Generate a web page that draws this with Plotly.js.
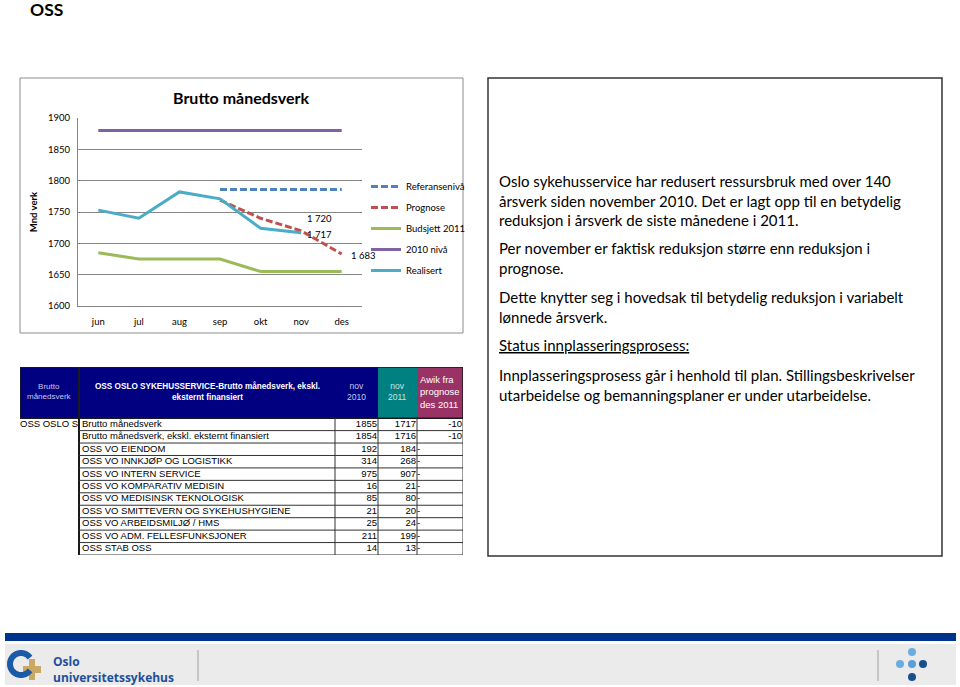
<!DOCTYPE html>
<html><head><meta charset="utf-8">
<script src="https://cdn.plot.ly/plotly-3.0.1.min.js"></script>
<style>html,body{margin:0;padding:0;background:#fff;}#chart{width:960px;height:687px;}</style>
</head><body><div id="chart"></div>
<script>
// ---- chart data ----
const months = ['jun','jul','aug','sep','okt','nov','des'];
const referanse = [null,null,null,1786,1786,1786,1786];
const prognose = [null,null,null,1769,1740,1720,1683];
const budsjett = [1685,1675,1675,1675,1655,1655,1655];
const nivaa2010 = [1880,1880,1880,1880,1880,1880,1880];
const realisert = [1753,1740,1782,1771,1724,1717,null];
const seriesNames = ['Referansenivå','Prognose','Budsjett 2011','2010 nivå','Realisert'];
const yTicks = [1600,1650,1700,1750,1800,1850,1900];

// ---- table data ----
const tableHeader = ['Brutto<br>månedsverk','OSS OSLO SYKEHUSSERVICE-Brutto månedsverk, ekskl.<br>eksternt finansiert','nov<br>2010','nov<br>2011','Awik fra<br>prognose<br>des 2011'];
const rowGroup = ['OSS OSLO S','','','','','','','','','',''];
const units = ['Brutto månedsverk','Brutto månedsverk, ekskl. eksternt finansiert','OSS VO EIENDOM','OSS VO INNKJØP OG LOGISTIKK','OSS VO INTERN SERVICE','OSS VO KOMPARATIV MEDISIN','OSS VO MEDISINSK TEKNOLOGISK','OSS VO SMITTEVERN OG SYKEHUSHYGIENE','OSS VO ARBEIDSMILJØ / HMS','OSS VO ADM. FELLESFUNKSJONER','OSS STAB OSS'];
const nov2010 = [1855,1854,192,314,975,16,85,21,25,211,14];
const nov2011 = [1717,1716,184,268,907,21,80,20,24,199,13];
const avvik = ['-10','-10','-','-','-','-','-','-','-','-','-'];

// ---- text ----
const paragraphs = [
 'Oslo sykehusservice har redusert ressursbruk med over 140<br>årsverk siden november 2010. Det er lagt opp til en betydelig<br>reduksjon i årsverk de siste månedene i 2011.',
 'Per november er faktisk reduksjon større enn reduksjon i<br>prognose.',
 'Dette knytter seg i hovedsak til betydelig reduksjon i variabelt<br>lønnede årsverk.',
 '<u>Status innplasseringsprosess:</u>',
 'Innplasseringsprosess går i henhold til plan. Stillingsbeskrivelser<br>utarbeidelse og bemanningsplaner er under utarbeidelse.'
];
const paraTop = [170,237,286,334,364];

const W=960,H=687;
const px = x => x/W, py = y => 1 - y/H;
const colors = ['#4f81bd','#c0504d','#9bbb59','#8064a2','#4bacc6'];
const dashes = ['7px,3px','7px,3px','solid','solid','solid'];
const ys = [referanse,prognose,budsjett,nivaa2010,realisert];
const lato = 'Lato, sans-serif';

const traces = ys.map((y,i)=>({
  type:'scatter', mode:'lines', name:seriesNames[i], x:months, y:y,
  line:{color:colors[i], width:3, dash:dashes[i]}, legendgroup:'g'+i, hoverinfo:'skip'
}));

// ---- table drawn on its own axes (x2 = column width units, y2 = row units) ----
const colW = [59,256,43,39,46];
const colX = [0]; colW.forEach(w=>colX.push(colX[colX.length-1]+w));
const tW = colX[colX.length-1];
const n = units.length;
const hdr = 51/12.4;
const rowY = units.map((_,i)=>hdr+i+0.5);
const tfont = 'Liberation Sans, Arial, sans-serif';
const cellFont = {family:tfont,size:9.5,color:'#000'};
const txt = (x,text,pos)=>({type:'scatter',mode:'text',xaxis:'x2',yaxis:'y2',x:x,y:rowY,text:text,textposition:pos,textfont:cellFont,showlegend:false,hoverinfo:'skip',cliponaxis:false});
traces.push(txt(rowY.map(()=>colX[0]),rowGroup,'middle right'));
traces.push(txt(rowY.map(()=>colX[1]+3),units,'middle right'));
traces.push(txt(rowY.map(()=>colX[3]-1),nov2010.map(String),'middle left'));
traces.push(txt(rowY.map(()=>colX[4]-1),nov2011.map(String),'middle left'));
traces.push(txt(avvik.map(v=>v==='-'?colX[4]:colX[5]-1),avvik,avvik.map(v=>v==='-'?'middle right':'middle left')));

const annotations = [
  {xref:'paper',yref:'paper',x:px(241),y:py(97),text:'<b>Brutto månedsverk</b>',showarrow:false,font:{family:lato,size:16,color:'#000'},xanchor:'center',yanchor:'middle'},
  {xref:'paper',yref:'paper',x:px(28),y:py(10),text:'<b>OSS</b>',showarrow:false,font:{family:lato,size:17.5,color:'#000'},xanchor:'left',yanchor:'middle'},
  {xref:'x',yref:'y',x:'nov',y:prognose[5],text:'1 720',showarrow:false,xshift:18,yshift:12,font:{family:lato,size:9.5,color:'#000'}},
  {xref:'x',yref:'y',x:'nov',y:realisert[5],text:'1 717',showarrow:false,xshift:18,yshift:-2,font:{family:lato,size:9.5,color:'#000'}},
  {xref:'x',yref:'y',x:'des',y:prognose[6],text:'1 683',showarrow:false,xshift:21,yshift:-2,font:{family:lato,size:9.5,color:'#000'}},
  {xref:'paper',yref:'paper',x:px(51),y:py(669),text:'Oslo<br>universitetssykehus',showarrow:false,xanchor:'left',yanchor:'middle',align:'left',font:{family:'Open Sans, sans-serif',size:12,color:'#1d4f9c',weight:'bold'}}
];
paragraphs.forEach((t,i)=>annotations.push({xref:'paper',yref:'paper',x:px(497),y:py(paraTop[i]),text:t,showarrow:false,xanchor:'left',yanchor:'top',align:'left',font:{family:lato,size:15,color:'#000'}}));

// table header text
const hdrFontColor = ['#c8c8ec','#ffffff','#c8c8ec','#c8e6e6','#ffffff'];
const hdrAlign = ['center','center','center','center','left'];
const hdrSize = [8,8.2,8.5,8.5,9.5];
const hdrY = [hdr*0.5-0.05,hdr*0.5-0.1,hdr*0.5-0.05,hdr*0.5-0.05,hdr*0.5-0.05];
tableHeader.forEach((t,c)=>{
  const left = hdrAlign[c]==='left';
  annotations.push({xref:'x2',yref:'y2',x:left?colX[c]+1:(colX[c]+colX[c+1])/2,y:hdrY[c],
    text:c===1?'<b>'+t+'</b>':t,showarrow:false,xanchor:left?'left':'center',yanchor:'middle',align:left?'left':'center',
    font:{family:tfont,size:hdrSize[c],color:hdrFontColor[c]}});
});

// footer logo arc
const arcPts=[]; const cx=21,cy=664,r=11;
for(let a=35;a<=325;a+=10){const t=a*Math.PI/180;arcPts.push([cx+r*Math.cos(t),cy-r*Math.sin(t)]);}
const arcPath='M'+arcPts.map(p=>px(p[0])+','+py(p[1])).join('L');
const rect=(x0,y0,x1,y1,fill,line)=>({type:'rect',xref:'paper',yref:'paper',x0:px(x0),x1:px(x1),y0:py(y1),y1:py(y0),fillcolor:fill,line:line||{width:0},layer:'below'});
const dot=(x,y,c)=>({type:'circle',xref:'paper',yref:'paper',x0:px(x-4),x1:px(x+4),y0:py(y+4),y1:py(y-4),fillcolor:c,line:{width:0}});
const shapes=[
  rect(20,78,463,333,'rgba(0,0,0,0)',{color:'#8c8c8c',width:1}),
  rect(488,78,942,556,'rgba(0,0,0,0)',{color:'#333',width:1.5}),
  rect(5,633,956,641,'#00338d'),
  rect(5,644,956,685,'#ebebeb'),
  {type:'line',xref:'paper',yref:'paper',x0:px(198),x1:px(198),y0:py(650),y1:py(681),line:{color:'#a0a0a0',width:1}},
  {type:'line',xref:'paper',yref:'paper',x0:px(878),x1:px(878),y0:py(650),y1:py(681),line:{color:'#a0a0a0',width:1}},
  {type:'path',xref:'paper',yref:'paper',path:arcPath,line:{color:'#1b5aa6',width:6}},
  rect(29,659,35,680,'#c9a865'),
  rect(23,666,41,673,'#c9a865'),
  dot(912,652,'#6aaee0'),dot(900,664,'#6aaee0'),dot(912,664,'#5a9fd6'),dot(923,664,'#1a4f8f'),dot(912,677,'#1a4f8f')
];
// table shapes
const hdrFill = ['#000080','#000080','#000080','#008080','#993366'];
colW.forEach((w,c)=>shapes.push({type:'rect',xref:'x2',yref:'y2',x0:colX[c],x1:colX[c+1],y0:0,y1:hdr,fillcolor:hdrFill[c],line:{width:0},layer:'below'}));
shapes.push({type:'rect',xref:'x2',yref:'y2',x0:0,x1:tW,y0:0,y1:hdr,line:{color:'#1a1a1a',width:1.5}});
shapes.push({type:'line',xref:'x2',yref:'y2',x0:colX[1],x1:colX[1],y0:0,y1:hdr+n,line:{color:'#1a1a1a',width:2}});
for(let c=2;c<=5;c++) shapes.push({type:'line',xref:'x2',yref:'y2',x0:colX[c],x1:colX[c],y0:hdr,y1:hdr+n,line:{color:'#333',width:1}});
for(let i=1;i<=n;i++) shapes.push({type:'line',xref:'x2',yref:'y2',x0:colX[1],x1:tW,y0:hdr+i,y1:hdr+i,line:{color:'#333',width:1}});

const layout = {
  width:W,height:H,margin:{l:0,r:0,t:0,b:0},paper_bgcolor:'#fff',plot_bgcolor:'rgba(0,0,0,0)',
  showlegend:true,
  legend:{x:px(366),y:py(172),xanchor:'left',yanchor:'top',traceorder:'grouped',tracegroupgap:2,bgcolor:'rgba(0,0,0,0)',font:{family:lato,size:9.5,color:'#000'}},
  xaxis:{domain:[px(78),px(362)],type:'category',categoryorder:'array',categoryarray:months,range:[-0.5,6.5],showgrid:false,showline:true,linecolor:'#868686',linewidth:1,ticks:'',ticklabelstandoff:7,tickfont:{family:lato,size:9.5,color:'#000'},fixedrange:true},
  yaxis:{domain:[py(306),py(118)],range:[1600,1900],tickvals:yTicks,showgrid:true,gridcolor:'#868686',gridwidth:1,zeroline:false,showline:true,linecolor:'#868686',linewidth:1,ticks:'',ticklabelstandoff:5,tickfont:{family:lato,size:9.5,color:'#000'},
    title:{text:'<b>Mnd verk</b>',font:{family:lato,size:9.5,color:'#000'},standoff:8},fixedrange:true},
  xaxis2:{domain:[px(20),px(463)],range:[0,tW],visible:false,fixedrange:true},
  yaxis2:{domain:[py(555),py(367)],range:[hdr+n,0],visible:false,fixedrange:true},
  annotations:annotations,shapes:shapes
};
Plotly.newPlot('chart',traces,layout,{displayModeBar:false,staticPlot:true});
</script></body></html>
